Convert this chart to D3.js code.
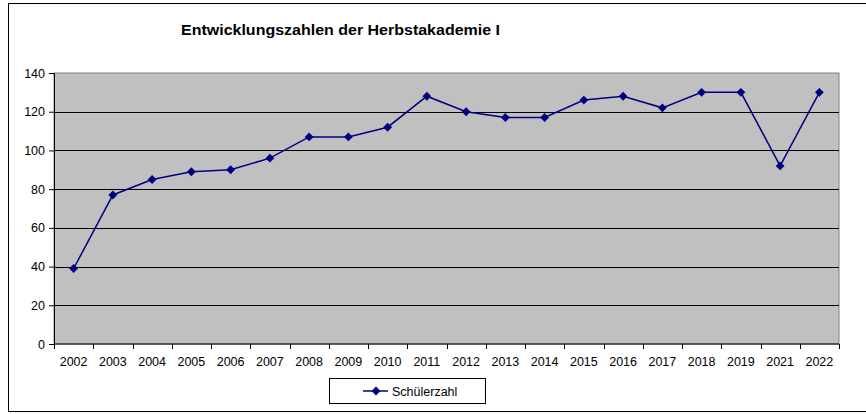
<!DOCTYPE html>
<html>
<head>
<meta charset="utf-8">
<script src="https://cdn.jsdelivr.net/npm/d3@7"></script>
<style>
  body { margin: 0; background: #fff; }
  text { font-family: "Liberation Sans", Arial, sans-serif; }
</style>
</head>
<body>
<script>
const width = 866;
const height = 414;

// data
const years = ["2002", "2003", "2004", "2005", "2006", "2007", "2008", "2009", "2010", "2011",
               "2012", "2013", "2014", "2015", "2016", "2017", "2018", "2019", "2021", "2022"];
const schueler = [39, 77, 85, 89, 90, 96, 107, 107, 112, 128,
                  120, 117, 117, 126, 128, 122, 130, 130, 92, 130];
const yTicks = [0, 20, 40, 60, 80, 100, 120, 140];

const plot = { left: 54, right: 839, top: 73, bottom: 344 };

const svg = d3.select("body").append("svg")
    .attr("width", width)
    .attr("height", height);

// outer chart border
svg.append("rect")
    .attr("x", 8.5).attr("y", 3.5)
    .attr("width", width).attr("height", 408)
    .attr("fill", "#fff")
    .attr("stroke", "#000")
    .attr("stroke-width", 1);

svg.append("text")
    .attr("x", 181)
    .attr("y", 35)
    .attr("font-size", 15.5)
    .attr("font-weight", "bold")
    .attr("textLength", 319)
    .attr("lengthAdjust", "spacingAndGlyphs")
    .text("Entwicklungszahlen der Herbstakademie I");

const x = d3.scaleBand()
    .domain(years)
    .range([plot.left, plot.right])
    .padding(0);

const y = d3.scaleLinear()
    .domain([0, 140])
    .range([plot.bottom, plot.top]);

// plot area
svg.append("rect")
    .attr("x", plot.left).attr("y", plot.top)
    .attr("width", plot.right - plot.left)
    .attr("height", plot.bottom - plot.top)
    .attr("fill", "#c0c0c0")
    .attr("stroke", "#808080")
    .attr("stroke-width", 1);

// gridlines
svg.selectAll(".grid")
    .data(yTicks.filter(d => d > 0 && d < 140))
    .enter()
    .append("line")
    .attr("x1", plot.left)
    .attr("x2", plot.right)
    .attr("y1", d => Math.round(y(d)) + 0.5)
    .attr("y2", d => Math.round(y(d)) + 0.5)
    .attr("stroke", "#000")
    .attr("stroke-width", 1);

// y axis
const yAxis = d3.axisLeft(y)
    .tickValues(yTicks)
    .tickSize(5)
    .tickPadding(4);

const gy = svg.append("g")
    .attr("transform", `translate(${plot.left},0)`)
    .call(yAxis);
gy.select(".domain").attr("stroke", "#000");
gy.selectAll("text").attr("font-size", 12.5).attr("fill", "#000")
    .attr("font-family", "'Liberation Sans', Arial, sans-serif");

// x axis: ticks at category boundaries
const gx = svg.append("g")
    .attr("transform", `translate(0,${plot.bottom})`);
gx.append("line")
    .attr("x1", plot.left).attr("x2", plot.right)
    .attr("stroke", "#000");
const bounds = years.map(d => x(d)).concat([plot.right]);
gx.selectAll(".tick")
    .data(bounds)
    .enter()
    .append("line")
    .attr("x1", d => Math.round(d) + 0.5)
    .attr("x2", d => Math.round(d) + 0.5)
    .attr("y1", 0)
    .attr("y2", 5)
    .attr("stroke", "#000");
gx.selectAll(".lbl")
    .data(years)
    .enter()
    .append("text")
    .attr("x", d => x(d) + x.bandwidth() / 2)
    .attr("y", 22)
    .attr("text-anchor", "middle")
    .attr("font-size", 12.5)
    .text(d => d);

// line + markers
const line = d3.line()
    .x((d, i) => x(years[i]) + x.bandwidth() / 2)
    .y(d => y(d));

svg.append("path")
    .datum(schueler)
    .attr("d", line)
    .attr("fill", "none")
    .attr("stroke", "#000080")
    .attr("stroke-width", 1.5);

const diamond = d3.symbol().type(d3.symbolDiamond2).size(50);

svg.selectAll(".pt")
    .data(schueler)
    .enter()
    .append("path")
    .attr("d", diamond)
    .attr("transform", (d, i) => `translate(${x(years[i]) + x.bandwidth() / 2},${y(d)})`)
    .attr("fill", "#000080");

// legend
const legend = svg.append("g");
legend.append("rect")
    .attr("x", 329.5).attr("y", 378.5)
    .attr("width", 156).attr("height", 25)
    .attr("fill", "#fff")
    .attr("stroke", "#000");
legend.append("line")
    .attr("x1", 363).attr("x2", 388)
    .attr("y1", 391).attr("y2", 391)
    .attr("stroke", "#000080")
    .attr("stroke-width", 1.5);
legend.append("path")
    .attr("d", diamond)
    .attr("transform", "translate(376,391)")
    .attr("fill", "#000080");
legend.append("text")
    .attr("x", 392)
    .attr("y", 395.5)
    .attr("font-size", 12.5)
    .text("Schülerzahl");
</script>
</body>
</html>
